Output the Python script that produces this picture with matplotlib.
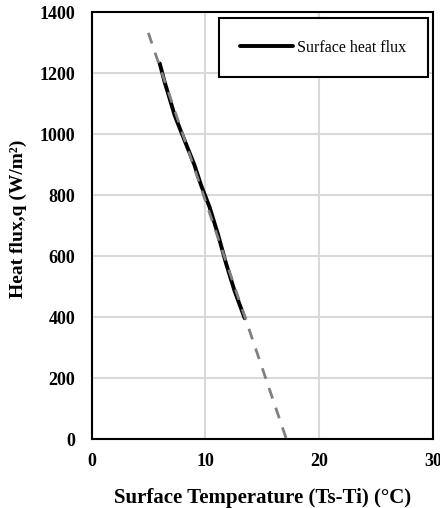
import numpy as np
import matplotlib.pyplot as plt

# surface temperature difference (Ts-Ti) in degC and surface heat flux in W/m2
temp_diff = [5.98, 6.41, 6.85, 7.29, 7.87, 8.45, 9.04, 9.6, 10.35, 11.08,
             11.81, 12.54, 13.45]
heat_flux = [1233, 1172, 1118, 1063, 1008, 954, 899, 835, 763, 675,
             577, 489, 397]

x_ticks = [0, 10, 20, 30]
y_ticks = [0, 200, 400, 600, 800, 1000, 1200, 1400]

plt.rcParams['font.family'] = ['Liberation Serif', 'DejaVu Serif']

fig = plt.figure(figsize=(4.4, 5.08), dpi=100)
ax = fig.add_axes([0.2084, 0.1352, 0.7756, 0.8402])

ax.plot(temp_diff, heat_flux, color='black', lw=2.8, solid_capstyle='round',
        solid_joinstyle='round', label='Surface heat flux', zorder=3)

# linear trendline, forecast back 1 unit and forward to q = 0
slope, intercept = np.polyfit(temp_diff, heat_flux, 1)
x_trend = np.array([min(temp_diff) - 1, -intercept / slope])
ax.plot(x_trend, slope * x_trend + intercept, color='#808080', lw=2,
        ls=(0, (4, 3.5)), zorder=4)

ax.set_xlim(0, 30)
ax.set_ylim(0, 1400)
ax.set_xticks(x_ticks)
ax.set_yticks(y_ticks)
ax.grid(True, color='#d9d9d9', lw=1.5)
ax.set_axisbelow(True)
ax.tick_params(length=0, labelsize=13)
ax.tick_params(axis='y', pad=12)
ax.tick_params(axis='x', pad=10)
for lab in ax.get_xticklabels() + ax.get_yticklabels():
    lab.set_fontweight('bold')
for sp in ax.spines.values():
    sp.set_linewidth(1.5)
    sp.set_color('black')

ax.set_xlabel('Surface Temperature (Ts-Ti) (°C)', fontsize=15,
              fontweight='bold', labelpad=13)
ax.set_ylabel('Heat flux,q (W/m²)', fontsize=14, fontweight='bold')
ax.yaxis.set_label_coords(-0.19, 0.517)

leg = ax.legend(loc='upper right', bbox_to_anchor=(0.9845, 0.9864),
                fontsize=11.5, frameon=True, fancybox=False,
                edgecolor='black', handlelength=3.3, handletextpad=0.25,
                borderpad=1.35, borderaxespad=0, framealpha=1)
leg.get_frame().set_linewidth(1.5)

fig.savefig('out.png', dpi=100)
